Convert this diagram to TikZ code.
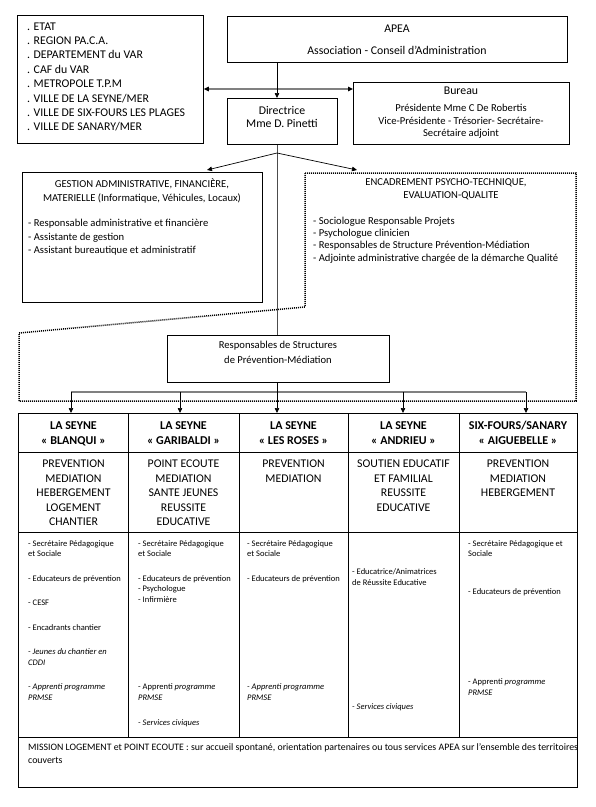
\documentclass[tikz,border=0pt]{standalone}
\usepackage{fontspec}
\setmainfont{Carlito}
\usetikzlibrary{arrows.meta}
\newcommand\fA{\fontsize{11.8}{13}\selectfont}
\newcommand\fH{\fontsize{12}{13}\selectfont\bfseries}
\newcommand\fB{\fontsize{10.6}{12}\selectfont}
\newcommand\fC{\fontsize{8.5}{10}\selectfont}
\newcommand\fD{\fontsize{9.85}{11}\selectfont}
\begin{document}
\begin{tikzpicture}[x=1pt,y=-1pt,
  frame/.style={draw, line width=0.8pt, inner sep=0, anchor=north west},
  tc/.style={inner sep=0, anchor=base},
  tw/.style={inner sep=0, anchor=base west},
  arr/.style={-{Triangle[length=5pt,width=4.5pt]}, line width=0.7pt},
  gline/.style={draw=black!50, line width=1.8pt},
  staff/.style={inner sep=0, anchor=base west, font=\fC},
]
\useasboundingbox (0,0) rectangle (596,807);

% ---- boxes
\node[frame, minimum width=186pt, minimum height=128pt] (fund) at (17,15) {};
\node[frame, minimum width=340pt, minimum height=46pt] (apea) at (227,16) {};
\node[frame, minimum width=110pt, minimum height=46pt] (dir) at (227,98) {};
\node[frame, minimum width=216pt, minimum height=62pt] (bureau) at (353,82) {};
\node[frame, minimum width=240pt, minimum height=130pt] (gest) at (22,172) {};
\node[frame, minimum width=222pt, minimum height=47pt] (resp) at (167,335) {};
\node[frame, minimum width=559pt, minimum height=374pt] (tab) at (18,413) {};

% ---- funders text
\foreach \t [count=\i from 0] in {. ETAT, . REGION PA.C.A., . DEPARTEMENT du VAR, . CAF du VAR, . METROPOLE T.P.M, . VILLE DE LA SEYNE/MER, . VILLE DE SIX-FOURS LES PLAGES, . VILLE DE SANARY/MER}
  \node[tw, font=\fA] (f\i) at (27,{30+14.4*\i}) {\t};

% ---- APEA
\node[tc, font=\fA] (apea1) at (397,32) {APEA};
\node[tc, font=\fA] (apea2) at (397,54) {Association - Conseil d’Administration};

% ---- Directrice
\node[tc, font=\fA] (dir1) at (282,114) {Directrice};
\node[tc, font=\fA] (dir2) at (282,127.5) {Mme D. Pinetti};

% ---- Bureau
\node[tc, font=\fA] (bur1) at (461,94.5) {Bureau};
\node[tc, font=\fB] (bur2) at (461,111.5) {Présidente Mme C De Robertis};
\node[tc, font=\fB] (bur3) at (461,124) {Vice-Présidente - Trésorier- Secrétaire-};
\node[tc, font=\fB] (bur4) at (461,136.5) {Secrétaire adjoint};

% ---- Gestion
\node[tc, font=\fB] (g1) at (142,187) {GESTION ADMINISTRATIVE, FINANCIÈRE,};
\node[tc, font=\fB] (g2) at (142,201) {MATERIELLE (Informatique, Véhicules, Locaux)};
\node[tw, font=\fB] (g3) at (28,226.5) {- Responsable administrative et financière};
\node[tw, font=\fB] (g4) at (28,240) {- Assistante de gestion};
\node[tw, font=\fB] (g5) at (28,253) {- Assistant bureautique et administratif};

% ---- Encadrement (dotted outline)
\draw[line width=1.5pt, dash pattern=on 1pt off 1pt]
  (305,173) -- (576,173) -- (576,401) -- (19,401) -- (19,333) -- (305,307) -- cycle;
\node[tc, font=\fB] (e1) at (446,185.5) {ENCADREMENT PSYCHO-TECHNIQUE,};
\node[tc, font=\fB] (e2) at (451,198) {EVALUATION-QUALITE};
\node[tw, font=\fB] (e3) at (313,224.5) {- Sociologue Responsable Projets};
\node[tw, font=\fB] (e4) at (313,236.5) {- Psychologue clinicien};
\node[tw, font=\fB] (e5) at (313,248.5) {- Responsables de Structure Prévention-Médiation};
\node[tw, font=\fB] (e6) at (313,261.5) {- Adjointe administrative chargée de la démarche Qualité};

% ---- Responsables
\node[tc, font=\fB] (r1) at (278,348.5) {Responsables de Structures};
\node[tc, font=\fB] (r2) at (278,363) {de Prévention-Médiation};

% ---- connectors
\coordinate (hub) at (277,89);
\coordinate (j1) at (277,153);
\coordinate (gtip) at (207,170);
\coordinate (etip) at (357,170);
\draw[gline, {Triangle[length=5pt,width=4.5pt,color=black]}-{Triangle[length=5pt,width=4.5pt,color=black]}]
  (fund.east |- hub) -- (bureau.west |- hub);
\draw[arr] (apea.south -| hub) -- (dir.north -| hub);
\draw[line width=0.8pt, black!70] (dir.south -| hub) -- (resp.north -| hub);
\draw[arr] (j1) -- (gtip);
\draw[arr] (j1) -- (etip);

\coordinate (a1) at (71,392);
\coordinate (a2) at (180,392);
\coordinate (a3) at (277,392);
\coordinate (a4) at (403,392);
\coordinate (a5) at (526,392);
\draw[gline] (a1) -- (a5);
\draw[arr] (resp.south -| hub) -- (tab.north -| hub);
\foreach \i in {1,2,4,5} \draw[arr] (a\i) -- (a\i |- tab.north);

% ---- table grid
\foreach \x in {128,239,348,459} \draw[line width=0.8pt] (\x,413) -- (\x,737);
\foreach \y in {452,532,737} \draw[line width=0.8pt] (18,\y) -- (577,\y);

% ---- headers
\node[tc, font=\fH] (h1a) at (73.5,429) {LA SEYNE};
\node[tc, font=\fH] (h1b) at (73.5,444) {« BLANQUI »};
\node[tc, font=\fH] (h2a) at (183.5,429) {LA SEYNE};
\node[tc, font=\fH] (h2b) at (183.5,444) {« GARIBALDI »};
\node[tc, font=\fH] (h3a) at (293.5,429) {LA SEYNE};
\node[tc, font=\fH] (h3b) at (293.5,444) {« LES ROSES »};
\node[tc, font=\fH] (h4a) at (403.5,429) {LA SEYNE};
\node[tc, font=\fH] (h4b) at (403.5,444) {« ANDRIEU »};
\node[tc, font=\fH] (h5a) at (518,429) {SIX-FOURS/SANARY};
\node[tc, font=\fH] (h5b) at (518,444) {« AIGUEBELLE »};

% ---- missions
\foreach \t [count=\i from 0] in {PREVENTION, MEDIATION, HEBERGEMENT, LOGEMENT, CHANTIER}
  \node[tc, font=\fA] (m1-\i) at (73.5,{467.5+14.5*\i}) {\t};
\foreach \t [count=\i from 0] in {POINT ECOUTE, MEDIATION, SANTE JEUNES, REUSSITE, EDUCATIVE}
  \node[tc, font=\fA] (m2-\i) at (183.5,{467.5+14.5*\i}) {\t};
\foreach \t [count=\i from 0] in {PREVENTION, MEDIATION}
  \node[tc, font=\fA] (m3-\i) at (293.5,{467.5+14.5*\i}) {\t};
\foreach \t [count=\i from 0] in {SOUTIEN EDUCATIF, ET FAMILIAL, REUSSITE, EDUCATIVE}
  \node[tc, font=\fA] (m4-\i) at (403.5,{467.5+14.5*\i}) {\t};
\foreach \t [count=\i from 0] in {PREVENTION, MEDIATION, HEBERGEMENT}
  \node[tc, font=\fA] (m5-\i) at (518,{467.5+14.5*\i}) {\t};

% ---- staff column 1
\node[staff] (s1a) at (28,546) {- Secrétaire Pédagogique};
\node[staff] (s1b) at (28,556.5) {et Sociale};
\node[staff] (s1c) at (28,581) {- Educateurs de prévention};
\node[staff] (s1d) at (28,605.5) {- CESF};
\node[staff] (s1e) at (28,630) {- Encadrants chantier};
\node[staff] (s1f) at (28,654.5) {\itshape - Jeunes du chantier en};
\node[staff] (s1g) at (28,665.5) {\itshape CDDI};
\node[staff] (s1h) at (28,689.5) {\itshape - Apprenti programme};
\node[staff] (s1i) at (28,700.5) {\itshape PRMSE};
% ---- staff column 2
\node[staff] (s2a) at (138,546) {- Secrétaire Pédagogique};
\node[staff] (s2b) at (138,556.5) {et Sociale};
\node[staff] (s2c) at (138,581) {- Educateurs de prévention};
\node[staff] (s2d) at (138,591) {- Psychologue};
\node[staff] (s2e) at (138,602.5) {- Infirmière};
\node[staff] (s2f) at (138,689.5) {- Apprenti \textit{programme}};
\node[staff] (s2g) at (138,700.5) {\itshape PRMSE};
\node[staff] (s2h) at (138,725) {\itshape - Services civiques};
% ---- staff column 3
\node[staff] (s3a) at (247,546) {- Secrétaire Pédagogique};
\node[staff] (s3b) at (247,556.5) {et Sociale};
\node[staff] (s3c) at (247,581) {- Educateurs de prévention};
\node[staff] (s3d) at (247,689.5) {\itshape - Apprenti programme};
\node[staff] (s3e) at (247,700.5) {\itshape PRMSE};
% ---- staff column 4
\node[staff] (s4a) at (352,574.5) {- Educatrice/Animatrices};
\node[staff] (s4b) at (352,585.5) {de Réussite Educative};
\node[staff] (s4c) at (352,709.5) {\itshape - Services civiques};
% ---- staff column 5
\node[staff] (s5a) at (468,546) {- Secrétaire Pédagogique et};
\node[staff] (s5b) at (468,556.5) {Sociale};
\node[staff] (s5c) at (468,594.5) {- Educateurs de prévention};
\node[staff] (s5d) at (468,684.5) {- Apprenti \textit{programme}};
\node[staff] (s5e) at (468,695.5) {\itshape PRMSE};

% ---- bottom row
\node[tw, font=\fD] (b1) at (28,750.5) {MISSION LOGEMENT et POINT ECOUTE : sur accueil spontané, orientation partenaires ou tous services APEA sur l’ensemble des territoires};
\node[tw, font=\fD] (b2) at (28,763.5) {couverts};
\end{tikzpicture}
\end{document}
